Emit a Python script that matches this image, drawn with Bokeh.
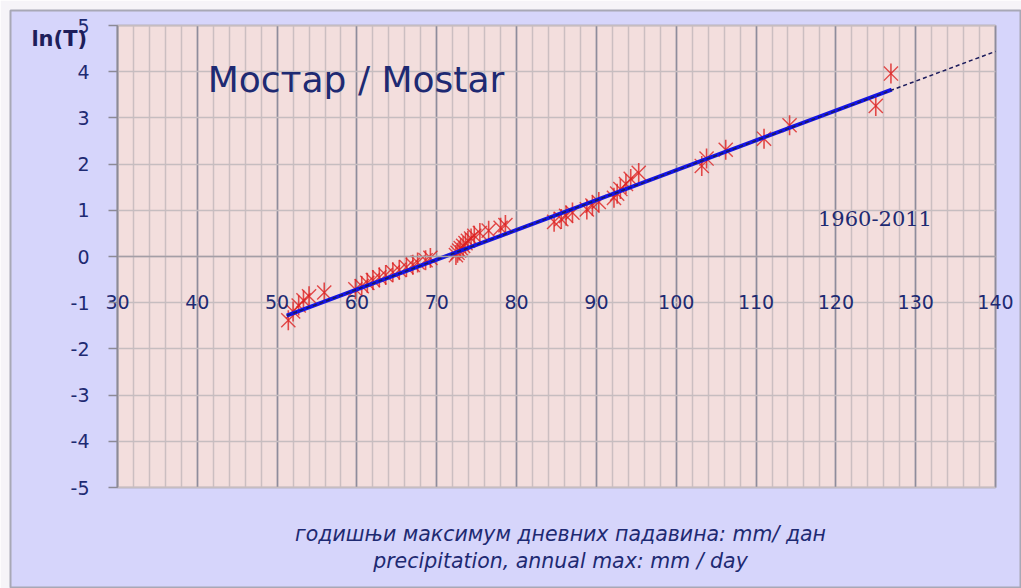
import math
from bokeh.plotting import figure
from bokeh.models import SingleIntervalTicker, LinearAxis, Label, Range1d
from bokeh.embed import file_html
from bokeh.resources import INLINE

# ---- data ----
precip = [51.4, 52.0, 52.7, 53.3, 54.0, 55.9, 59.8, 60.6, 61.3, 62.0, 62.8, 63.6,
          64.5, 65.3, 66.2, 67.0, 67.6, 68.6, 69.2, 72.4, 72.6, 72.8, 73.0, 73.3,
          73.6, 73.9, 74.3, 74.7, 75.4, 76.5, 78.0, 78.6, 84.7, 85.6, 86.2, 87.0,
          88.8, 89.5, 90.3, 92.2, 92.6, 93.0, 93.7, 94.3, 95.3, 103.2, 103.8,
          106.2, 111.0, 114.2, 125.0, 126.9]
lnT = [-1.38, -1.19, -1.06, -0.95, -0.86, -0.78, -0.71, -0.64, -0.57, -0.51, -0.45,
       -0.40, -0.34, -0.29, -0.23, -0.18, -0.13, -0.08, -0.03, 0.03, 0.08, 0.13,
       0.18, 0.23, 0.29, 0.34, 0.39, 0.45, 0.51, 0.56, 0.62, 0.68, 0.75, 0.81,
       0.88, 0.95, 1.02, 1.10, 1.18, 1.27, 1.36, 1.46, 1.57, 1.68, 1.81, 1.96,
       2.12, 2.31, 2.55, 2.84, 3.26, 3.96]
fit_x = [51.2, 127.0]
fit_y = [-1.28, 3.61]
ext_x = [51.2, 140.0]
ext_y = [-1.28, 4.44]

y_ticks = [-5, -4, -3, -2, -1, 0, 1, 2, 3, 4, 5]
y_tick_labels = ["-5", "-4", "-3", "-2", "-1", "0", "1", "2", "3", "4", "5"]

title_text = "Мостар / Mostar"
period_text = "1960-2011"
ylabel_text = "ln(T)"
xlabel_sr = "годишњи максимум дневних падавина: mm/ дан"
xlabel_en = "precipitation, annual max: mm / day"

X_MIN, X_MAX = 30, 140
Y_MIN, Y_MAX = -5, 5

NAVY = "#1E2A72"
OUTER = "#D6D5FB"
INNER = "#F3DEDD"

p = figure(width=1021, height=588, output_backend="svg", toolbar_location=None,
           x_range=Range1d(16.595, 143.257), y_range=Range1d(-7.186, 5.3247),
           x_axis_location=None, y_axis_location=None,
           min_border_left=10, min_border_right=0, min_border_top=10,
           min_border_bottom=0)
p.background_fill_color = OUTER
p.border_fill_color = "#F6F4F8"
p.outline_line_color = "#A8A8B6"
p.outline_line_width = 2

# inner plotting area
p.quad(left=[X_MIN], right=[X_MAX], bottom=[Y_MIN], top=[Y_MAX],
       fill_color=INNER, line_color="#9C9AA8", line_width=1.5, level="image")

xt = SingleIntervalTicker(interval=10, num_minor_ticks=5)
yt = SingleIntervalTicker(interval=1, num_minor_ticks=0)

xaxis = LinearAxis(ticker=xt, fixed_location=0, bounds=(X_MIN, X_MAX))
xaxis.axis_line_color = "#A49EA6"
xaxis.axis_line_width = 1.5
xaxis.major_tick_line_color = None
xaxis.minor_tick_line_color = None
xaxis.major_label_standoff = 32
xaxis.major_label_text_font = "DejaVu Sans"
xaxis.major_label_text_font_size = "19px"
xaxis.major_label_text_color = NAVY
p.add_layout(xaxis, "below")

yaxis = LinearAxis(ticker=yt, fixed_location=X_MIN, bounds=(Y_MIN, Y_MAX))
yaxis.axis_line_color = "#8C8A96"
yaxis.axis_line_width = 1.5
yaxis.major_tick_line_color = "#8C8A96"
yaxis.major_tick_line_width = 1.5
yaxis.major_tick_out = 9
yaxis.major_tick_in = 0
yaxis.minor_tick_line_color = None
yaxis.major_label_standoff = 19
yaxis.major_label_text_font = "DejaVu Sans"
yaxis.major_label_text_font_size = "19px"
yaxis.major_label_text_color = NAVY
yaxis.major_label_overrides = dict(zip(y_ticks, y_tick_labels))
p.add_layout(yaxis, "left")

p.xgrid.ticker = xt
p.xgrid.bounds = (X_MIN, X_MAX)
p.xgrid.cross_bounds = (Y_MIN, Y_MAX)
p.xgrid.grid_line_color = "#8E8C9C"
p.xgrid.grid_line_width = 1.6
p.xgrid.minor_grid_line_color = "#CBBEC1"
p.xgrid.minor_grid_line_width = 1.5
p.ygrid.ticker = yt
p.ygrid.bounds = (Y_MIN, Y_MAX)
p.ygrid.cross_bounds = (X_MIN, X_MAX)
p.ygrid.grid_line_color = "#C6BDC0"
p.ygrid.grid_line_width = 1.5

# points: Excel-like star = x + vertical bar
p.scatter(precip, lnT, marker="x", size=20, line_color="#DD2222", line_alpha=0.8,
          line_width=1.4)
p.scatter(precip, lnT, marker="dash", size=20, angle=math.pi / 2,
          line_color="#DD2222", line_alpha=0.8, line_width=1.6)

p.line(fit_x, fit_y, line_color="#1414E6", line_width=4)
p.line(ext_x, ext_y, line_color="#1C1C5C", line_width=1.5, line_dash="4 3")

p.add_layout(Label(x=41.3, y=3.83, text=title_text, text_font="DejaVu Sans",
                   text_font_size="36px", text_color=NAVY,
                   text_baseline="alphabetic", text_align="left"))
p.add_layout(Label(x=124.9, y=0.82, text=period_text, text_font="DejaVu Serif",
                   text_font_size="21px", text_color=NAVY,
                   text_baseline="middle", text_align="center"))
p.add_layout(Label(x=22.7, y=4.70, text=ylabel_text, text_font="DejaVu Sans",
                   text_font_size="21px", text_font_style="bold", text_color="#1E1E5A",
                   text_baseline="middle", text_align="center"))
p.add_layout(Label(x=85.5, y=-6.0, text=xlabel_sr, text_font="DejaVu Sans",
                   text_font_size="20.5px", text_font_style="italic", text_color=NAVY,
                   text_baseline="middle", text_align="center"))
p.add_layout(Label(x=85.5, y=-6.6, text=xlabel_en, text_font="DejaVu Sans",
                   text_font_size="20.5px", text_font_style="italic", text_color=NAVY,
                   text_baseline="middle", text_align="center"))

open("out.html", "w").write(file_html(p, INLINE))
